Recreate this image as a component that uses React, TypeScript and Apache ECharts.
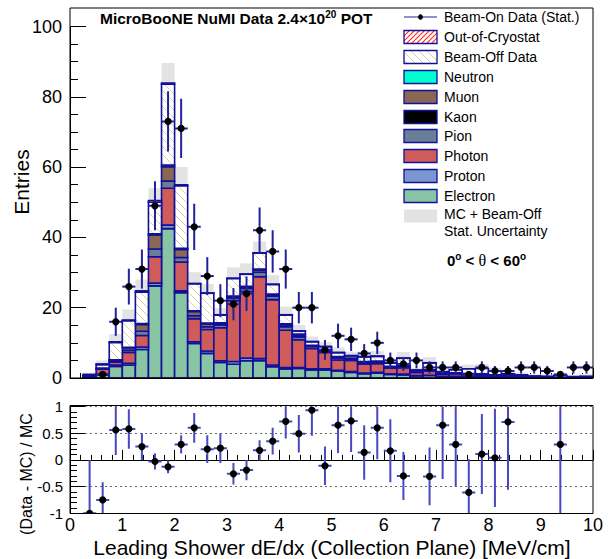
import React, { useEffect, useRef } from "react";
import * as echarts from "echarts";

// ---------------- DATA ----------------
const binCenters = [0.125,0.375,0.625,0.875,1.125,1.375,1.625,1.875,2.125,2.375,2.625,2.875,3.125,3.375,3.625,3.875,4.125,4.375,4.625,4.875,5.125,5.375,5.625,5.875,6.125,6.375,6.625,6.875,7.125,7.375,7.625,7.875,8.125,8.375,8.625,8.875,9.125,9.375,9.625,9.875];
const halfBin = 0.125;

const electron = [0,0.2,0.8,3.3,3.7,8.1,26.2,42.5,24.3,9.8,7.0,4.4,3.9,4.9,4.9,3.2,2.6,2.7,2.3,2.3,2.0,1.6,1.2,1.4,1.0,0.9,0.6,0.7,0.4,0.4,0.3,0.3,0.2,0.2,0.1,0.1,0.1,0.1,0.05,0.05];
const proton = [0,0.1,0.3,0.4,0.5,0.7,0.8,1.0,0.5,0.5,0.7,0.5,0.8,0.8,0.6,0.5,0.4,0.3,0.3,0.3,0.2,0.2,0.2,0.2,0.2,0.2,0.1,0.1,0.1,0.1,0.1,0.1,0.1,0.05,0.05,0,0,0,0,0];
const photon = [0,0.3,1.4,0.8,3.1,3.3,7.5,10.5,8.2,6.6,6.1,9.4,17.3,18.9,23.3,18.6,10.6,7.9,5.8,4.7,2.9,3.2,2.6,2.5,1.6,1.8,0.9,1.2,0.6,0.7,0.6,0.5,0.4,0.3,0.2,0.2,0.15,0.15,0.1,0.1];
const pion = [0,0.05,0.2,0.4,0.6,1.2,2.2,2.0,1.3,0.8,0.8,0.8,0.8,0.9,1.3,1.0,1.0,0.8,0.6,0.5,0.6,0.4,0.4,0.4,0.3,0.3,0.2,0.2,0.2,0.2,0.2,0.2,0.1,0.1,0.05,0.05,0.05,0.03,0.05,0.05];
const kaon = [0,0,0,0,0,0,0,0,0,0,0,0,0,0,0,0,0,0,0,0,0,0,0,0,0,0,0,0,0,0,0,0,0,0,0,0,0,0,0,0];
const muon = [0,0,0.1,0.2,0.7,1.9,4.0,4.1,2.3,1.2,0.8,0.4,0.3,0.4,0.6,0.4,0.5,0.4,0.2,0.2,0.3,0.2,0.2,0.2,0.1,0.2,0.1,0.1,0.1,0.1,0.1,0.1,0.1,0.02,0,0,0,0,0,0];
const neutron = [0,0,0,0.1,0.1,0.3,0.3,0.5,0.3,0.2,0.2,0.2,0.2,0.2,0.3,0.2,0.3,0.4,0.1,0.1,0.1,0.1,0.1,0.1,0.1,0.1,0,0.05,0,0,0,0,0,0,0,0,0,0,0,0];
const beamOff = [0,0.3,1.0,4.9,7.6,8.9,9.0,23.0,17.8,7.7,8.5,2.2,5.0,3.4,4.5,2.7,2.5,0.8,1.0,0.8,1.1,0.6,1.3,1.35,0.9,2.1,0.3,1.9,0.4,0.8,1.3,1.5,1.0,0.5,0.5,0.25,0.2,0.5,0.2,0.3];
const outCryo = [0,0.05,0.2,0.2,0.2,0.4,0.5,0.3,0.3,0.1,0.1,0.1,0.1,0.1,0.1,0.1,0.1,0.1,0.1,0.1,0.1,0.1,0.1,0.1,0.1,0.1,0.1,0.1,0,0,0,0,0,0,0,0,0,0,0,0];
const mcUncertainty = [0,0.5,1.0,2.2,3.0,3.2,3.5,5.7,5.0,3.2,2.6,1.9,3.1,3.0,3.2,2.6,2.3,1.7,1.4,1.2,1.4,1.1,1.4,1.4,1.2,1.7,0.6,1.6,0.8,1.0,1.2,1.3,1.0,0.8,0.7,0.5,0.5,0.7,0.5,0.6];

const beamOnData = [0,0,1,16,26,31,49,73,71,43,29,22,21,24,42,36,31,20,20,8,12,11,7,10,5,4,5,3,3,3,1,3,2,2,3,3,2,1,3,3];

const ratio = [null,-1,-0.75,0.56,0.58,0.25,-0.03,-0.13,0.29,0.60,0.20,0.22,-0.26,-0.19,0.18,0.35,0.72,0.49,0.93,-0.11,0.65,0.73,0.14,0.60,0.17,-0.30,null,-0.31,0.65,0.29,-0.61,0.11,0.04,0.71,null,null,null,0.29,null,null];
const ratioErr = [null,1.0,0.33,0.47,0.37,0.25,0.15,0.12,0.17,0.28,0.26,0.28,0.20,0.19,0.19,0.25,0.32,0.35,0.48,0.36,0.52,0.58,0.51,0.59,0.59,0.45,null,0.54,1.01,0.79,0.62,0.75,0.92,1.27,null,null,null,1.3,null,null];

const upperYTicks = [0, 20, 40, 60, 80, 100];
const lowerYTicks = [-1, -0.5, 0, 0.5, 1];
const xTicks = [0, 1, 2, 3, 4, 5, 6, 7, 8, 9, 10];

// ---------------- STYLE ----------------
const FONT = "'Liberation Sans', Arial, Helvetica, sans-serif";
const OUTLINE = "#10109a";
const BAR_UP = "#22229c";
const BAR_LO = "#4848c0";

function makeHatch(color: string, dir: "back" | "fwd", size: number, lw: number) {
  const c = document.createElement("canvas");
  c.width = size;
  c.height = size;
  const ctx = c.getContext("2d")!;
  ctx.fillStyle = "#ffffff";
  ctx.fillRect(0, 0, size, size);
  ctx.strokeStyle = color;
  ctx.lineWidth = lw;
  ctx.beginPath();
  for (let k = -1; k <= 1; k++) {
    if (dir === "back") {
      ctx.moveTo(0, k * size);
      ctx.lineTo(size, size + k * size);
    } else {
      ctx.moveTo(0, size + k * size);
      ctx.lineTo(size, k * size);
    }
  }
  ctx.stroke();
  return c;
}

export default function App() {
  const ref = useRef<HTMLDivElement>(null);

  useEffect(() => {
    if (!ref.current) return;
    const chart = echarts.init(ref.current, undefined, { renderer: "svg" });

    const beamOffFill: any = { image: makeHatch("#dcd29c", "back", 8, 1), repeat: "repeat" };
    const outCryoFill: any = { image: makeHatch("#ff2020", "fwd", 5, 1.1), repeat: "repeat" };

    const components = [
      { name: "Electron", values: electron, fill: "#87c5a4" },
      { name: "Proton", values: proton, fill: "#7b97d0" },
      { name: "Photon", values: photon, fill: "#cf5b5b" },
      { name: "Pion", values: pion, fill: "#6a7f97" },
      { name: "Kaon", values: kaon, fill: "#000000" },
      { name: "Muon", values: muon, fill: "#8a6654" },
      { name: "Neutron", values: neutron, fill: "#00ffcf" },
      { name: "Beam-Off Data", values: beamOff, fill: beamOffFill },
      { name: "Out-of-Cryostat", values: outCryo, fill: outCryoFill },
    ];

    // cumulative stack
    const base = binCenters.map(() => 0);
    const stackSeries: any[] = components.map((comp) => {
      const data: number[][] = [];
      binCenters.forEach((c, i) => {
        const v = comp.values[i];
        if (v > 0) data.push([c - halfBin, c + halfBin, base[i], base[i] + v]);
        base[i] += v;
      });
      return {
        type: "custom",
        name: comp.name,
        xAxisIndex: 0,
        yAxisIndex: 0,
        z: 3,
        clip: true,
        encode: { x: [0, 1], y: [2, 3] },
        data,
        renderItem: (params: any, api: any) => {
          const p0 = api.coord([api.value(0), api.value(3)]);
          const p1 = api.coord([api.value(1), api.value(2)]);
          return {
            type: "rect",
            shape: { x: p0[0], y: p0[1], width: p1[0] - p0[0], height: p1[1] - p0[1] },
            style: { fill: comp.fill, stroke: OUTLINE, lineWidth: 1.6 },
          };
        },
      };
    });

    const totals = base.slice();
    const bandData: number[][] = [];
    binCenters.forEach((c, i) => {
      if (totals[i] > 0) bandData.push([c - halfBin, c + halfBin, Math.max(0, totals[i] - mcUncertainty[i]), totals[i] + mcUncertainty[i]]);
    });

    const dataPts: number[][] = [];
    binCenters.forEach((c, i) => {
      if (beamOnData[i] > 0) dataPts.push([c, beamOnData[i], Math.sqrt(beamOnData[i])]);
    });

    const ratioPts: number[][] = [];
    binCenters.forEach((c, i) => {
      if (ratio[i] !== null) ratioPts.push([c, ratio[i] as number, ratioErr[i] as number]);
    });

    const pointRender = (color: string, lw: number) => (params: any, api: any) => {
      const x = api.value(0), y = api.value(1), e = api.value(2);
      const c = api.coord([x, y]);
      const t = api.coord([x, y + e]);
      const b = api.coord([x, y - e]);
      const l = api.coord([x - halfBin, y]);
      const r = api.coord([x + halfBin, y]);
      return {
        type: "group",
        children: [
          { type: "line", shape: { x1: c[0], y1: t[1], x2: c[0], y2: b[1] }, style: { stroke: color, lineWidth: lw } },
          { type: "line", shape: { x1: l[0], y1: c[1], x2: r[0], y2: c[1] }, style: { stroke: color, lineWidth: lw } },
          { type: "circle", shape: { cx: c[0], cy: c[1], r: 3.6 }, style: { fill: "#000" } },
        ],
      };
    };

    const axisLineStyle = { show: true, lineStyle: { color: "#000", width: 1 } };

    const legendRows = [
      { label: "Out-of-Cryostat", fill: outCryoFill, y: 37 },
      { label: "Beam-Off Data", fill: beamOffFill, y: 57 },
      { label: "Neutron", fill: "#00ffcf", y: 77 },
      { label: "Muon", fill: "#8a6654", y: 97 },
      { label: "Kaon", fill: "#000000", y: 117 },
      { label: "Pion", fill: "#6a7f97", y: 136 },
      { label: "Photon", fill: "#cf5b5b", y: 156 },
      { label: "Proton", fill: "#7b97d0", y: 176 },
      { label: "Electron", fill: "#87c5a4", y: 196 },
    ];

    const LX = 404, LW = 33, LH = 13, TX = 444;
    const graphics: any[] = [];
    // Beam-on legend symbol
    graphics.push({ type: "line", shape: { x1: LX, y1: 17, x2: LX + LW, y2: 17 }, style: { stroke: BAR_UP, lineWidth: 1.2 }, z: 50 });
    graphics.push({ type: "line", shape: { x1: LX + LW / 2, y1: 14, x2: LX + LW / 2, y2: 20 }, style: { stroke: BAR_UP, lineWidth: 1.2 }, z: 50 });
    graphics.push({ type: "circle", shape: { cx: LX + LW / 2, cy: 17, r: 2.5 }, style: { fill: "#000" }, z: 51 });
    graphics.push({ type: "text", x: TX, y: 17, style: { text: "Beam-On Data (Stat.)", font: `14px ${FONT}`, fill: "#000", align: "left", verticalAlign: "middle" }, z: 50 });
    legendRows.forEach((row) => {
      graphics.push({ type: "rect", shape: { x: LX, y: row.y - LH / 2, width: LW, height: LH }, style: { fill: row.fill, stroke: OUTLINE, lineWidth: 1.3 }, z: 50 });
      graphics.push({ type: "text", x: TX, y: row.y, style: { text: row.label, font: `14px ${FONT}`, fill: "#000", align: "left", verticalAlign: "middle" }, z: 50 });
    });
    graphics.push({ type: "rect", shape: { x: LX, y: 209.5, width: LW, height: LH }, style: { fill: "#e3e3e3" }, z: 50 });
    graphics.push({ type: "text", x: TX, y: 214, style: { text: "MC + Beam-Off", font: `14px ${FONT}`, fill: "#000", align: "left", verticalAlign: "middle" }, z: 50 });
    graphics.push({ type: "text", x: TX, y: 231, style: { text: "Stat. Uncertainty", font: `14px ${FONT}`, fill: "#000", align: "left", verticalAlign: "middle" }, z: 50 });
    // theta label
    graphics.push({
      type: "text", x: 447, y: 260, z: 50,
      style: {
        text: "0{sup|o} < {th|θ} < 60{sup|o}",
        font: `bold 15px ${FONT}`, fill: "#000", align: "left", verticalAlign: "middle", lineHeight: 18,
        rich: {
          sup: { fontSize: 10, fontWeight: "bold", fontFamily: FONT, verticalAlign: "top", lineHeight: 10 },
          th: { fontSize: 16, fontWeight: "normal", fontFamily: "'Liberation Serif', serif", lineHeight: 18 },
        },
      },
    });
    // title
    graphics.push({
      type: "text", x: 100, y: 18, z: 50,
      style: {
        text: "MicroBooNE NuMI Data 2.4×10{sup|20} POT",
        font: `bold 15.5px ${FONT}`, fill: "#000", align: "left", verticalAlign: "middle", lineHeight: 18,
        rich: { sup: { fontSize: 10, fontWeight: "bold", fontFamily: FONT, verticalAlign: "top", lineHeight: 10 } },
      },
    });
    // axis titles
    graphics.push({ type: "text", x: 21, y: 182, rotation: Math.PI / 2, z: 50, style: { text: "Entries", font: `21px ${FONT}`, fill: "#000", align: "center", verticalAlign: "middle" } });
    graphics.push({ type: "text", x: 26, y: 474, rotation: Math.PI / 2, z: 50, style: { text: "(Data - MC) / MC", font: `16px ${FONT}`, fill: "#000", align: "center", verticalAlign: "middle" } });
    graphics.push({ type: "text", x: 332, y: 547, z: 50, style: { text: "Leading Shower dE/dx (Collection Plane) [MeV/cm]", font: `21px ${FONT}`, fill: "#000", align: "center", verticalAlign: "middle" } });
    // frames
    graphics.push({ type: "rect", shape: { x: 70, y: 8, width: 523, height: 370 }, style: { fill: "none", stroke: "#000", lineWidth: 1 }, z: 60 });
    graphics.push({ type: "rect", shape: { x: 70, y: 405.5, width: 523, height: 108 }, style: { fill: "none", stroke: "#000", lineWidth: 1 }, z: 60 });

    const option: any = {
      animation: false,
      backgroundColor: "#ffffff",
      grid: [
        { left: 70, right: 15, top: 26.5, bottom: 181 },
        { left: 70, right: 15, top: 406.5, bottom: 45.7 },
      ],
      xAxis: [
        {
          type: "value", gridIndex: 0, min: xTicks[0], max: xTicks[xTicks.length - 1], interval: 1,
          axisLine: axisLineStyle,
          axisTick: { show: true, inside: true, length: 10, lineStyle: { color: "#000" } },
          minorTick: { show: true, splitNumber: 5, length: 5, lineStyle: { color: "#000" } },
          axisLabel: { show: false },
          splitLine: { show: false },
        },
        {
          type: "value", gridIndex: 1, min: xTicks[0], max: xTicks[xTicks.length - 1], interval: 1,
          axisLine: axisLineStyle,
          axisTick: { show: true, inside: true, length: 10, lineStyle: { color: "#000" } },
          minorTick: { show: true, splitNumber: 5, length: 5, lineStyle: { color: "#000" } },
          axisLabel: { show: true, fontSize: 18, fontFamily: FONT, color: "#000", margin: 3 },
          splitLine: { show: false },
        },
      ],
      yAxis: [
        {
          type: "value", gridIndex: 0, min: upperYTicks[0], max: upperYTicks[upperYTicks.length - 1], interval: 20,
          axisLine: axisLineStyle,
          axisTick: { show: true, inside: true, length: 16, lineStyle: { color: "#000" } },
          minorTick: { show: true, splitNumber: 4, length: 8, lineStyle: { color: "#000" } },
          axisLabel: { show: true, fontSize: 18, fontFamily: FONT, color: "#000", margin: 8 },
          splitLine: { show: false },
        },
        {
          type: "value", gridIndex: 1, min: lowerYTicks[0], max: lowerYTicks[lowerYTicks.length - 1], interval: 0.5,
          axisLine: axisLineStyle,
          axisTick: { show: true, inside: true, length: 15, lineStyle: { color: "#000" } },
          minorTick: { show: true, splitNumber: 5, length: 7, lineStyle: { color: "#000" } },
          axisLabel: {
            show: true, fontSize: 15, fontFamily: FONT, color: "#000", margin: 7,
            formatter: (v: number) => String(v),
          },
          splitLine: { show: true, lineStyle: { color: "#666", type: [2, 3], width: 1 } },
        },
      ],
      series: [
        {
          type: "custom", name: "MC + Beam-Off Stat. Uncertainty", xAxisIndex: 0, yAxisIndex: 0, z: 2, clip: true,
          encode: { x: [0, 1], y: [2, 3] },
          data: bandData,
          renderItem: (params: any, api: any) => {
            const p0 = api.coord([api.value(0), api.value(3)]);
            const p1 = api.coord([api.value(1), api.value(2)]);
            return { type: "rect", shape: { x: p0[0], y: p0[1], width: p1[0] - p0[0], height: p1[1] - p0[1] }, style: { fill: "#e3e3e3" } };
          },
        },
        ...stackSeries,
        {
          type: "custom", name: "Beam-On Data (Stat.)", xAxisIndex: 0, yAxisIndex: 0, z: 5, clip: true,
          encode: { x: 0, y: 1 },
          data: dataPts,
          renderItem: pointRender(BAR_UP, 2),
        },
        {
          type: "custom", name: "Ratio", xAxisIndex: 1, yAxisIndex: 1, z: 5, clip: true,
          encode: { x: 0, y: 1 },
          data: ratioPts,
          renderItem: pointRender(BAR_LO, 2),
        },
      ],
      graphic: graphics,
    };

    chart.setOption(option);
    return () => chart.dispose();
  }, []);

  return <div ref={ref} style={{ position: "fixed", left: 0, top: 0, width: 608, height: 559, background: "#fff" }} />;
}
